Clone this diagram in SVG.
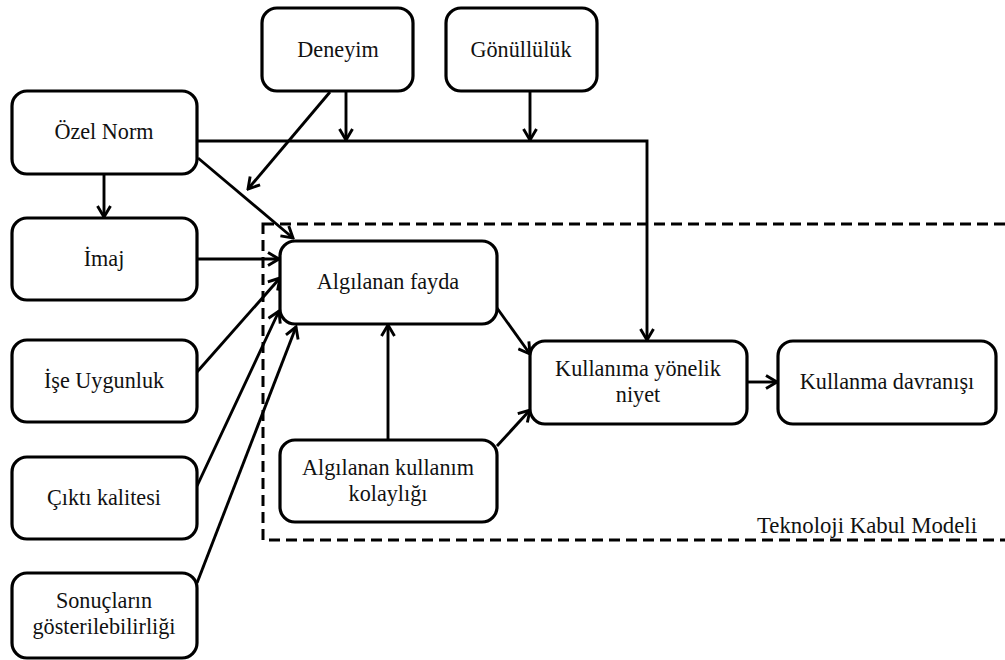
<svg xmlns="http://www.w3.org/2000/svg" width="1005" height="660" viewBox="0 0 1005 660">
<style>
.box{fill:#fff;stroke:#000;stroke-width:3.2}
.t{font-family:"Liberation Serif","Times New Roman",serif;font-size:22.2px;fill:#111;text-anchor:middle}
.c{fill:none;stroke:#000;stroke-width:2.9;marker-end:url(#ah)}
.dash{fill:none;stroke:#000;stroke-width:3;stroke-dasharray:11 6}
</style>
<defs>
<marker id="ah" markerUnits="userSpaceOnUse" markerWidth="16" markerHeight="16" viewBox="0 0 16 16" refX="14" refY="8" orient="auto">
<path d="M3,1.5 L14,8 L3,14.5" fill="none" stroke="#000" stroke-width="2.9"/>
</marker>
</defs>
<rect class="dash" x="263" y="224" width="760" height="316"/>
<text x="977" y="533" font-family="Liberation Serif, serif" font-size="22.8px" fill="#111" text-anchor="end">Teknoloji Kabul Modeli</text>
<g id="connectors">
<path class="c" d="M197,141 H647 V340"/>
<path class="c" d="M346,91 V140"/>
<path class="c" d="M530,91 V140"/>
<path class="c" d="M330,92 L248,189"/>
<path class="c" d="M198,158 L293,238"/>
<path class="c" d="M104,174 V217"/>
<path class="c" d="M197,259 H279"/>
<path class="c" d="M197,372 L280,278"/>
<path class="c" d="M197,486 L279,311"/>
<path class="c" d="M197,583 L296,327"/>
<path class="c" d="M388,440 V325"/>
<path class="c" d="M497,308 L530,354"/>
<path class="c" d="M497,446 L530,410"/>
<path class="c" d="M747,382 H777"/>
</g>
<g id="deneyim"><rect class="box" x="262" y="8" width="151" height="83" rx="15"/><text class="t" x="338" y="57">Deneyim</text></g>
<g id="gonulluluk"><rect class="box" x="446" y="8" width="151" height="83" rx="15"/><text class="t" x="521" y="57">Gönüllülük</text></g>
<g id="ozel-norm"><rect class="box" x="12" y="91" width="185" height="83" rx="15"/><text class="t" x="104" y="139">Özel Norm</text></g>
<g id="imaj"><rect class="box" x="12" y="218" width="185" height="82" rx="15"/><text class="t" x="104" y="266">İmaj</text></g>
<g id="ise-uygunluk"><rect class="box" x="12" y="340" width="185" height="82" rx="15"/><text class="t" x="104" y="388">İşe Uygunluk</text></g>
<g id="cikti-kalitesi"><rect class="box" x="12" y="457" width="185" height="82" rx="15"/><text class="t" x="104" y="505">Çıktı kalitesi</text></g>
<g id="sonuclarin"><rect class="box" x="12" y="573" width="185" height="85" rx="15"/><text class="t" x="104" y="608">Sonuçların</text><text class="t" x="104" y="634">gösterilebilirliği</text></g>
<g id="algilanan-fayda"><rect class="box" x="280" y="241" width="217" height="83" rx="15"/><text class="t" x="388" y="289">Algılanan fayda</text></g>
<g id="algilanan-kolaylik"><rect class="box" x="280" y="440" width="217" height="82" rx="15"/><text class="t" x="388" y="475">Algılanan kullanım</text><text class="t" x="388" y="501">kolaylığı</text></g>
<g id="kullanima-niyet"><rect class="box" x="530" y="341" width="217" height="83" rx="15"/><text class="t" x="638" y="376">Kullanıma yönelik</text><text class="t" x="638" y="402">niyet</text></g>
<g id="kullanma-davranisi"><rect class="box" x="778" y="341" width="218" height="83" rx="15"/><text class="t" x="887" y="389">Kullanma davranışı</text></g>
</svg>
